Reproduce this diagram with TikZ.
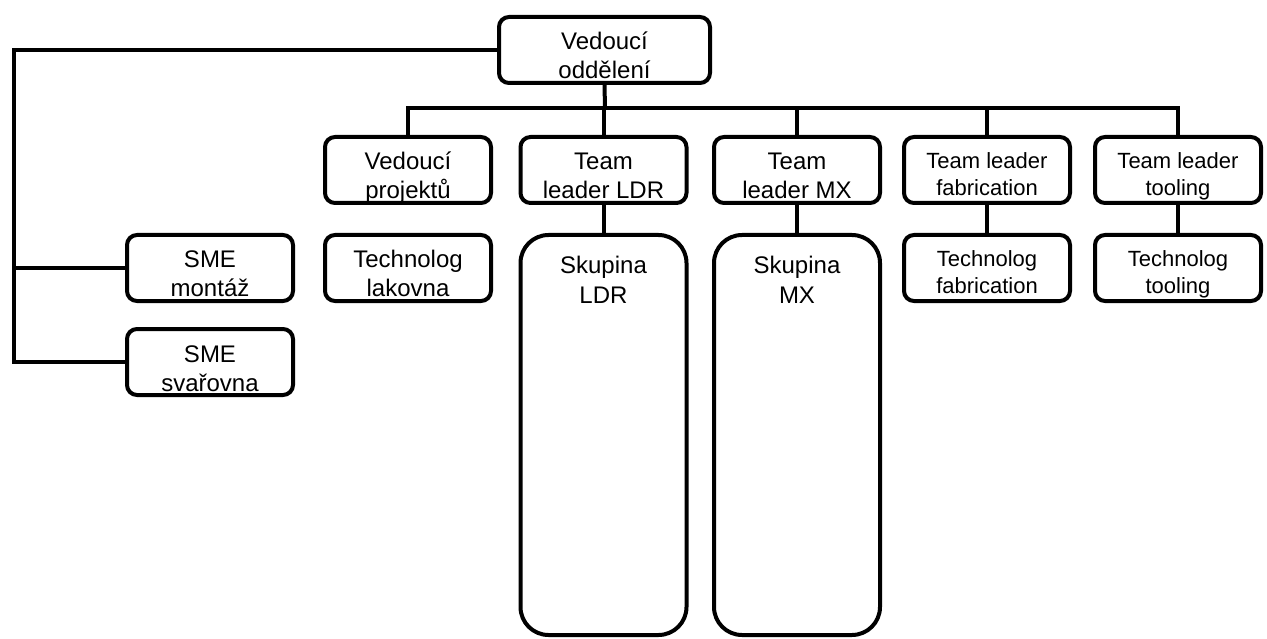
\documentclass[tikz,border=0pt]{standalone}
\usepackage{fontspec}
\setmainfont{Liberation Sans}
\begin{document}
\begin{tikzpicture}[x=1pt,y=-1pt,line width=4pt,
  box/.style={draw,rounded corners=10pt,minimum width=166pt,minimum height=66pt,
    inner sep=0pt,align=center,font=\fontsize{24}{29}\selectfont,
    text height=58pt,text depth=0pt},
  smallbox/.style={box,font=\fontsize{22}{26.5}\selectfont,text height=51pt},
  tallbox/.style={box,rounded corners=28pt,minimum height=400pt,
    text height=0pt,text depth=264pt}]
\useasboundingbox (0,0) rectangle (1267,639);
% top
\node[box,minimum width=211pt] (top) at (604.5,50) {Vedoucí\\oddělení};
% row 1
\node[box] (vp)   at (408,170)   {Vedoucí\\projektů};
\node[box] (ldr)  at (603.5,170) {Team\\leader LDR};
\node[box] (mx)   at (797,170)   {Team\\leader MX};
\node[smallbox] (fab)  at (987,170)  {Team leader\\fabrication};
\node[smallbox] (tool) at (1178,170) {Team leader\\tooling};
% row 2
\node[box] (smeM) at (210,268) {SME\\montáž};
\node[box] (smeS) at (210,362) {SME\\svařovna};
\node[box] (tlak) at (408,268) {Technolog\\lakovna};
\node[tallbox] (sLDR) at (603.5,435) {Skupina\\LDR};
\node[tallbox] (sMX)  at (797,435)   {Skupina\\MX};
\node[smallbox] (tfab)  at (987,268)  {Technolog\\fabrication};
\node[smallbox] (ttool) at (1178,268) {Technolog\\tooling};
% connectors
\coordinate (L) at (14,50);
\coordinate (bus) at (605,108);
\draw (top.west) -- (L) |- (smeS.west);
\draw (L |- smeM.west) -- (smeM.west);
\draw (top.south) -- (bus);
\draw (vp.north) |- (bus) -| (tool.north);
\draw (ldr.north) -- (ldr.north |- bus);
\draw (mx.north) -- (mx.north |- bus);
\draw (fab.north) -- (fab.north |- bus);
\draw (ldr.south) -- (sLDR.north);
\draw (mx.south) -- (sMX.north);
\draw (fab.south) -- (tfab.north);
\draw (tool.south) -- (ttool.north);
\end{tikzpicture}
\end{document}
